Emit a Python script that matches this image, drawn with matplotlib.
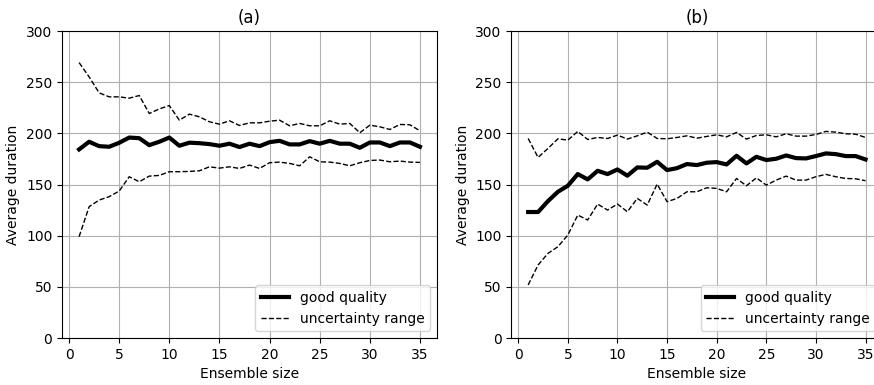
import numpy as np
import matplotlib
matplotlib.use('Agg')
import matplotlib.pyplot as plt

# ensemble sizes
ens = np.arange(1, 36)

# panel (a)
good_a = [184.4, 191.9, 187.6, 187.0, 190.9, 196.0, 195.4, 188.6, 191.9, 196.0,
          188.0, 191.0, 190.5, 189.6, 188.0, 190.0, 186.7, 190.0, 187.6, 191.5,
          192.8, 189.3, 189.3, 192.5, 190.0, 192.8, 190.0, 190.0, 186.0, 191.2,
          191.2, 187.6, 191.2, 191.2, 187.0]
upper_a = [269.3, 255.3, 239.7, 235.8, 235.8, 234.5, 237.1, 219.5, 224.0, 227.3,
           213.0, 218.9, 216.3, 211.4, 209.1, 212.4, 207.8, 210.4, 210.4, 212.0,
           213.0, 207.5, 209.8, 207.5, 207.5, 212.4, 209.1, 209.8, 200.7, 208.1,
           206.5, 203.9, 208.8, 208.5, 202.6]
lower_a = [99.1, 128.4, 134.9, 138.2, 143.7, 157.7, 152.8, 158.3, 159.0, 162.6,
           162.6, 162.9, 163.5, 167.4, 166.1, 167.4, 165.8, 169.1, 165.8, 171.4,
           172.0, 170.7, 168.4, 177.2, 172.3, 172.0, 170.7, 168.4, 171.4, 173.6,
           174.0, 172.3, 173.0, 172.0, 171.7]

# panel (b)
good_b = [123.2, 123.2, 133.9, 143.0, 148.9, 160.3, 155.1, 163.5, 160.3, 164.8,
          158.7, 166.8, 166.5, 172.3, 164.2, 166.1, 170.1, 169.1, 171.4, 172.0,
          169.7, 178.2, 170.7, 177.2, 174.0, 175.3, 178.5, 175.9, 175.6, 177.9,
          180.5, 179.8, 177.9, 177.9, 174.6]
upper_b = [195.1, 176.6, 185.4, 194.8, 193.5, 202.0, 194.1, 196.1, 195.1, 198.4,
           194.5, 197.7, 201.3, 195.1, 194.8, 196.1, 197.7, 195.4, 197.1, 198.7,
           196.7, 201.0, 194.5, 198.0, 198.7, 196.7, 199.7, 197.4, 197.4, 199.0,
           202.0, 201.3, 199.7, 199.3, 196.1]
lower_b = [51.9, 71.4, 82.8, 89.3, 100.7, 120.2, 115.4, 131.0, 125.1, 131.0,
           123.5, 136.5, 130.0, 150.5, 133.3, 136.5, 143.0, 143.0, 146.9, 146.3,
           143.0, 156.0, 148.9, 156.6, 149.5, 154.4, 158.3, 154.4, 154.4, 157.7,
           160.0, 157.7, 156.0, 155.7, 153.8]

panels = [('(a)', good_a, upper_a, lower_a),
          ('(b)', good_b, upper_b, lower_b)]

fig = plt.figure(figsize=(8.74, 3.85), dpi=100)
ax_a = fig.add_axes([0.071, 0.122, 0.429, 0.797])
# right panel runs past the figure edge, as in the original crop
ax_b = fig.add_axes([0.585, 0.122, 0.4246, 0.797])

for ax, (title, good, upper, lower) in zip([ax_a, ax_b], panels):
    ax.plot(ens, good, 'k-', linewidth=3, label='good quality')
    ax.plot(ens, upper, 'k--', linewidth=1, label='uncertainty range')
    ax.plot(ens, lower, 'k--', linewidth=1)
    ax.set_ylim(0, 300)
    ax.set_xticks(np.arange(0, 36, 5))
    ax.set_title(title)
    ax.set_xlabel('Ensemble size')
    ax.set_ylabel('Average duration')
    ax.grid(True)
    ax.legend(loc='lower right')

plt.savefig('out.png', dpi=100)
plt.close()
